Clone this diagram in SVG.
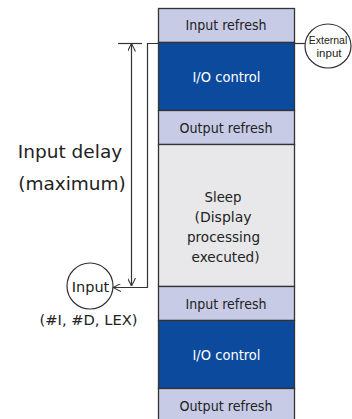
<svg xmlns="http://www.w3.org/2000/svg" width="352" height="419" viewBox="0 0 352 419">
<style>
.t{font-family:"DejaVu Sans","Liberation Sans",sans-serif;fill:#222;text-anchor:middle}
.n{font-family:"Liberation Sans",Arial,sans-serif}
.w{fill:#fff}
.lav{fill:#c8cbe6;stroke:#333;stroke-width:1.3}
.blu{fill:#0c4a9e;stroke:#333;stroke-width:1.3}
.gry{fill:#e8e8ea;stroke:#333;stroke-width:1.3}
.ln{fill:none;stroke:#333;stroke-width:1.2}
.circ{fill:#fff;stroke:#333;stroke-width:1.2}
</style>
<defs>
<marker id="oa" viewBox="0 0 10 10" refX="10" refY="5" markerWidth="8" markerHeight="8" markerUnits="userSpaceOnUse" orient="auto-start-reverse">
<path d="M0,0 L10,5 L0,10" fill="none" stroke="#333" stroke-width="1.3"/>
</marker>
</defs>
<g id="row1"><rect class="lav" x="158.5" y="8.5" width="136" height="34"/><text class="t" x="226" y="30" font-size="14" textLength="81" lengthAdjust="spacingAndGlyphs">Input refresh</text></g>
<g id="row2"><rect class="blu" x="158.5" y="42.5" width="136" height="68"/><text class="t w" x="226.5" y="82" font-size="14" textLength="68" lengthAdjust="spacingAndGlyphs">I/O control</text></g>
<g id="row3"><rect class="lav" x="158.5" y="110.5" width="136" height="34"/><text class="t" x="226" y="133" font-size="14" textLength="93" lengthAdjust="spacingAndGlyphs">Output refresh</text></g>
<g id="row4"><rect class="gry" x="158.5" y="144.5" width="136" height="142"/>
<text class="t" x="223" y="202" font-size="14" textLength="37" lengthAdjust="spacingAndGlyphs">Sleep</text>
<text class="t" x="223" y="222" font-size="14">(Display</text>
<text class="t" x="223.5" y="242" font-size="14" textLength="73" lengthAdjust="spacingAndGlyphs">processing</text>
<text class="t" x="225.5" y="262" font-size="14" textLength="68" lengthAdjust="spacingAndGlyphs">executed)</text></g>
<g id="row5"><rect class="lav" x="158.5" y="286.5" width="136" height="34"/><text class="t" x="226" y="309" font-size="14" textLength="81" lengthAdjust="spacingAndGlyphs">Input refresh</text></g>
<g id="row6"><rect class="blu" x="158.5" y="320.5" width="136" height="68"/><text class="t w" x="226.5" y="360" font-size="14" textLength="68" lengthAdjust="spacingAndGlyphs">I/O control</text></g>
<g id="row7"><rect class="lav" x="158.5" y="388.5" width="136" height="40"/><text class="t" x="226" y="411" font-size="14" textLength="93" lengthAdjust="spacingAndGlyphs">Output refresh</text></g>
<g id="external-input"><ellipse class="circ" cx="328" cy="46" rx="23" ry="22"/>
<text class="t n" x="328" y="43.5" font-size="10.5">External</text>
<text class="t n" x="329" y="57" font-size="11.5">input</text></g>
<g id="input"><circle class="circ" cx="90" cy="286" r="23"/><text class="t" x="90.5" y="291.5" font-size="14.5">Input</text>
<text class="t" x="88.5" y="325" font-size="14.5" textLength="98" lengthAdjust="spacingAndGlyphs">(#I, #D, LEX)</text></g>
<g id="input-delay"><text class="t" x="70" y="158" font-size="18.5">Input delay</text><text class="t" x="72" y="190" font-size="18.5">(maximum)</text></g>
<g id="connectors">
<path class="ln" d="M294.5,43.5 H305"/>
<path class="ln" d="M118,43.5 H142"/>
<path class="ln" d="M131.5,43.5 V286" marker-start="url(#oa)" marker-end="url(#oa)"/>
<path class="ln" d="M158.5,43.5 H147.5 V287.5 H113" marker-end="url(#oa)"/>
</g>
</svg>
